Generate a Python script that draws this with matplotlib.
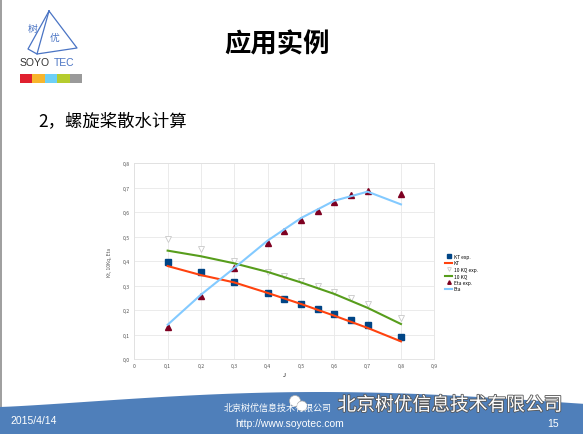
import numpy as np
import matplotlib
matplotlib.use('Agg')
import matplotlib.pyplot as plt
import matplotlib.patheffects as pe
from matplotlib.patches import Polygon, Rectangle

plt.rcParams['font.family'] = ['Noto Sans CJK SC', 'DejaVu Sans']

# dati
J_exp = [0.1, 0.2, 0.3, 0.4, 0.45, 0.5, 0.55, 0.6, 0.65, 0.7, 0.8]
kt_exp = [0.398, 0.357, 0.313, 0.268, 0.247, 0.225, 0.204, 0.183, 0.161, 0.139, 0.089]
kq10_exp = [0.489, 0.448, 0.402, 0.357, 0.338, 0.318, 0.297, 0.273, 0.249, 0.223, 0.166]
eta_exp = [0.131, 0.256, 0.372, 0.476, 0.523, 0.567, 0.606, 0.641, 0.669, 0.688, 0.676]

J_calc = [0.1, 0.2, 0.3, 0.4, 0.5, 0.6, 0.7, 0.8]
kt_calc = [0.380, 0.343, 0.313, 0.270, 0.225, 0.177, 0.127, 0.072]
kq10_calc = [0.443, 0.420, 0.391, 0.356, 0.313, 0.266, 0.209, 0.143]
eta_calc = [0.140, 0.263, 0.372, 0.484, 0.576, 0.647, 0.684, 0.632]

x_ticks = [0, 0.1, 0.2, 0.3, 0.4, 0.5, 0.6, 0.7, 0.8, 0.9]
y_ticks = [0.0, 0.1, 0.2, 0.3, 0.4, 0.5, 0.6, 0.7, 0.8]
logo_colors = ['#e0202f', '#f7b52c', '#6dcff6', '#b5cc2e', '#9a9a9a']

W, H = 583, 435
fig = plt.figure(figsize=(W / 100, H / 100), dpi=100)
fig.patch.set_facecolor('white')

# livello di sfondo in coordinate pixel
bg = fig.add_axes([0, 0, 1, 1])
bg.set_xlim(0, W)
bg.set_ylim(H, 0)
bg.axis('off')

# bordo grigio a sinistra
bg.add_patch(Rectangle((0, 0), 2, 408, color='#a0a0a0', lw=0))

# fascia blu in basso con bordo curvo
xs = np.linspace(0, W, 60)
top = 408 - 15 * np.sin(np.pi * xs / 640) ** 1.2
pts = list(zip(xs, top)) + [(W, H), (0, H)]
bg.add_patch(Polygon(pts, closed=True, color='#4f7fba', lw=0))

# logo
bg.plot([49, 37, 77, 49], [12, 55, 49, 12], color='#4a74c4', lw=0.9)
bg.plot([49, 28, 37], [12, 50, 55], color='#4a74c4', lw=0.9)
bg.text(33, 29, '树', fontsize=7, color='#4a74c4', ha='center', va='center')
bg.text(55, 38, '优', fontsize=7, color='#4a74c4', ha='center', va='center')
bg.text(20, 63, 'SOYO', fontsize=7.5, color='#333333', ha='left', va='center',
        family=['Liberation Sans'])
bg.text(54, 63, 'TEC', fontsize=7.5, color='#4a74c4', ha='left', va='center',
        family=['Liberation Sans'])
for i, c in enumerate(logo_colors):
    bg.add_patch(Rectangle((20 + i * 12.4, 75), 12.4, 8.5, color=c, lw=0))

# titoli
bg.text(277, 45, '应用实例', fontsize=19, fontweight='bold', ha='center', va='center')
bg.text(38, 121, '2，螺旋桨散水计算', fontsize=12.5, ha='left', va='center')

# piè di pagina
bg.text(10, 421, '2015/4/14', fontsize=7.5, color='white', ha='left', va='center',
        family=['Liberation Sans'])
bg.text(278, 408, '北京树优信息技术有限公司', fontsize=6.5, color='white', ha='center', va='center')
bg.text(290, 424, 'http://www.soyotec.com', fontsize=7.5, color='white', ha='center', va='center',
        family=['Liberation Sans'])
bg.text(553, 424, '15', fontsize=7.5, color='white', ha='center', va='center',
        family=['Liberation Sans'])
bg.text(450, 406, '北京树优信息技术有限公司', fontsize=13.5, color='white', ha='center', va='center',
        path_effects=[pe.withStroke(linewidth=1.2, foreground='#555555')])
for cx, cy, r in [(295, 402, 5.5), (302, 407, 5)]:
    bg.add_patch(plt.Circle((cx, cy), r, color='white', ec='#aaaaaa', lw=0.5))

# grafico
ax = fig.add_axes([134.3 / W, 1 - 360 / H, 300 / W, 195.7 / H])
ax.plot(J_exp, kt_exp, 's', color='#004586', ms=4.2, label='KT exp.')
ax.plot(J_calc, kt_calc, '-', color='#ff420e', lw=1.5, label='KT')
ax.plot(J_exp, kq10_exp, 'v', mfc='white', mec='#c8c8c8', mew=0.6, ms=4.5, label='10 KQ exp.')
ax.plot(J_calc, kq10_calc, '-', color='#579d1c', lw=1.5, label='10 KQ')
ax.plot(J_exp, eta_exp, '^', color='#7e0021', ms=4.2, label='Eta exp.')
ax.plot(J_calc, eta_calc, '-', color='#83caff', lw=1.5, label='Eta')

ax.set_xlim(0, 0.9)
ax.set_ylim(0, 0.8)
ax.set_xticks(x_ticks)
ax.set_yticks(y_ticks)
ax.set_xticklabels(['0'] + [('%.1f' % v).replace('.', ',') for v in x_ticks[1:]])
ax.set_yticklabels([('%.1f' % v).replace('.', ',') for v in y_ticks])
ax.tick_params(labelsize=3.7, length=0, pad=3, colors='#555555')
ax.grid(color='#e8e8e8', lw=0.6)
ax.set_axisbelow(True)
for s in ax.spines.values():
    s.set_color('#e0e0e0')
    s.set_linewidth(0.6)
ax.set_xlabel('J', fontsize=4, labelpad=3)
ax.set_ylabel('Kt, 10Kq, Eta', fontsize=3.5, labelpad=8, color='#555555')

fig.legend(loc='upper left', bbox_to_anchor=(443 / W, 1 - 253 / H), frameon=False,
           fontsize=3.5, handlelength=1.5, handletextpad=0.3, labelspacing=0.3,
           borderaxespad=0, markerscale=0.6)

plt.savefig('out.png', dpi=100)
